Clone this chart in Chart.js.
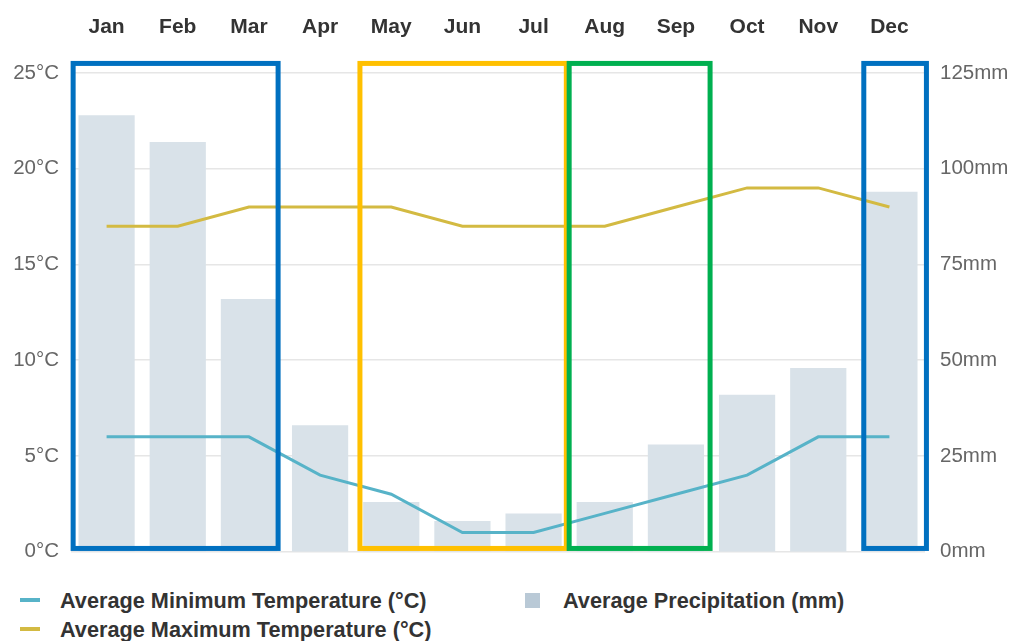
<!DOCTYPE html>
<html>
<head>
<meta charset="utf-8">
<script src="https://cdn.jsdelivr.net/npm/chart.js@4.4.1/dist/chart.umd.min.js"></script>
<style>
  html, body { margin: 0; padding: 0; background: #fff; }
  #wrap { position: relative; width: 1010px; height: 641px; overflow: hidden; }
  #chart-box { position: absolute; left: 0; top: 0; width: 1010px; height: 579px; }
  .legend-item {
    position: absolute;
    font: bold 21.7px "Liberation Sans", Arial, sans-serif;
    color: #333;
    line-height: 24px;
    white-space: nowrap;
  }
  .legend-item .mark { position: absolute; }
</style>
</head>
<body>
<div id="wrap">
  <div id="chart-box"><canvas id="chart-canvas"></canvas></div>
  <div id="legend"></div>
</div>
<script>
// climate chart – monthly temps (lines) + precipitation (bars)

const months = ['Jan', 'Feb', 'Mar', 'Apr', 'May', 'Jun', 'Jul', 'Aug', 'Sep', 'Oct', 'Nov', 'Dec'];
const minTemp = [6, 6, 6, 4, 3, 1, 1, 2, 3, 4, 6, 6];
const maxTemp = [17, 17, 18, 18, 18, 17, 17, 17, 18, 19, 19, 18];
const precipMm = [114, 107, 66, 33, 13, 8, 10, 13, 28, 41, 48, 94];

const tempTicks = [0, 5, 10, 15, 20, 25];
const rainTicks = [0, 25, 50, 75, 100, 125];

// season frames, in month-index units (fractional = part of a column)
const frameFrom = [-0.47, 3.56, 6.5, 10.64];
const frameTo = [2.41, 6.46, 8.48, 11.52];
const frameColors = ['#0070C0', '#FFC000', '#00B050', '#0070C0'];

const labelMin = 'Average Minimum Temperature (°C)';
const labelMax = 'Average Maximum Temperature (°C)';
const labelRain = 'Average Precipitation (mm)';

const COLORS = {
  min: '#57B3C8',
  max: '#D3BA42',
  bar: '#D9E2E9',
  grid: '#E6E6E6',
  tick: '#666666',
  month: '#333333',
};

const FONT = '"Liberation Sans", Arial, sans-serif';

// draws the coloured season frames over the plot
const seasonFrames = {
  id: 'seasonFrames',
  afterDatasetsDraw(chart) {
    const { ctx, scales: { x, yTemp } } = chart;
    const top = yTemp.getPixelForValue(25.5);
    const bottom = yTemp.getPixelForValue(0.17);
    ctx.save();
    ctx.lineWidth = 5;
    frameFrom.forEach((from, i) => {
      const left = x.getPixelForValue(from);
      const right = x.getPixelForValue(frameTo[i]);
      ctx.strokeStyle = frameColors[i];
      ctx.strokeRect(left, top, right - left, bottom - top);
    });
    ctx.restore();
  },
};

const ctx = document.getElementById('chart-canvas');

new Chart(ctx, {
  type: 'bar',
  data: {
    labels: months,
    datasets: [
      {
        label: labelMin,
        type: 'line',
        data: minTemp,
        yAxisID: 'yTemp',
        borderColor: COLORS.min,
        backgroundColor: COLORS.min,
        borderWidth: 3,
        pointRadius: 0,
        tension: 0,
        order: 1,
      },
      {
        label: labelMax,
        type: 'line',
        data: maxTemp,
        yAxisID: 'yTemp',
        borderColor: COLORS.max,
        backgroundColor: COLORS.max,
        borderWidth: 3,
        pointRadius: 0,
        tension: 0,
        order: 1,
      },
      {
        label: labelRain,
        data: precipMm,
        yAxisID: 'yRain',
        backgroundColor: COLORS.bar,
        categoryPercentage: 1,
        barPercentage: 0.79,
        order: 2,
      },
    ],
  },
  options: {
    responsive: true,
    maintainAspectRatio: false,
    animation: false,
    layout: { padding: { left: 0, right: 0, top: 0, bottom: 23 } },
    plugins: {
      legend: { display: false },
      tooltip: { enabled: false },
    },
    scales: {
      x: {
        position: 'top',
        grid: { display: false, drawTicks: false },
        border: { display: false },
        ticks: {
          color: COLORS.month,
          font: { size: 21, weight: 'bold', family: FONT },
          padding: 33,
          maxRotation: 0,
        },
        afterFit(scale) { scale.height = 73; },
      },
      yTemp: {
        position: 'left',
        min: 0,
        max: 25,
        afterBuildTicks(scale) { scale.ticks = tempTicks.map(v => ({ value: v })); },
        grid: { color: COLORS.grid, lineWidth: 1.5, drawTicks: false },
        border: { display: false },
        ticks: {
          color: COLORS.tick,
          font: { size: 20.5, family: FONT },
          padding: 12,
          callback: v => v + '°C',
        },
        afterFit(scale) { scale.width = 71; },
      },
      yRain: {
        position: 'right',
        min: 0,
        max: 125,
        afterBuildTicks(scale) { scale.ticks = rainTicks.map(v => ({ value: v })); },
        grid: { display: false, drawTicks: false },
        border: { display: false },
        ticks: {
          color: COLORS.tick,
          font: { size: 20.5, family: FONT },
          padding: 15,
          callback: v => v + 'mm',
        },
        afterFit(scale) { scale.width = 85; },
      },
    },
  },
  plugins: [seasonFrames],
});

// legend under the chart: two columns, lines on the left, bars on the right
const legendRows = [
  { text: labelMin, color: COLORS.min, kind: 'line', x: 20, y: 601 },
  { text: labelMax, color: COLORS.max, kind: 'line', x: 20, y: 630 },
  { text: labelRain, color: '#B9C9D6', kind: 'box', x: 525, y: 601 },
];
const legendEl = document.getElementById('legend');
legendRows.forEach(item => {
  const el = document.createElement('div');
  el.className = 'legend-item';
  const textLeft = item.kind === 'line' ? 40 : 38;
  el.style.left = item.x + 'px';
  el.style.top = (item.y - 12) + 'px';
  el.style.paddingLeft = textLeft + 'px';
  const mark = document.createElement('span');
  mark.className = 'mark';
  mark.style.background = item.color;
  if (item.kind === 'line') {
    mark.style.left = '0px';
    mark.style.top = '9px';
    mark.style.width = '20px';
    mark.style.height = '4px';
  } else {
    mark.style.left = '0px';
    mark.style.top = '4px';
    mark.style.width = '15px';
    mark.style.height = '15px';
  }
  el.appendChild(mark);
  el.appendChild(document.createTextNode(item.text));
  legendEl.appendChild(el);
});
</script>
</body>
</html>
